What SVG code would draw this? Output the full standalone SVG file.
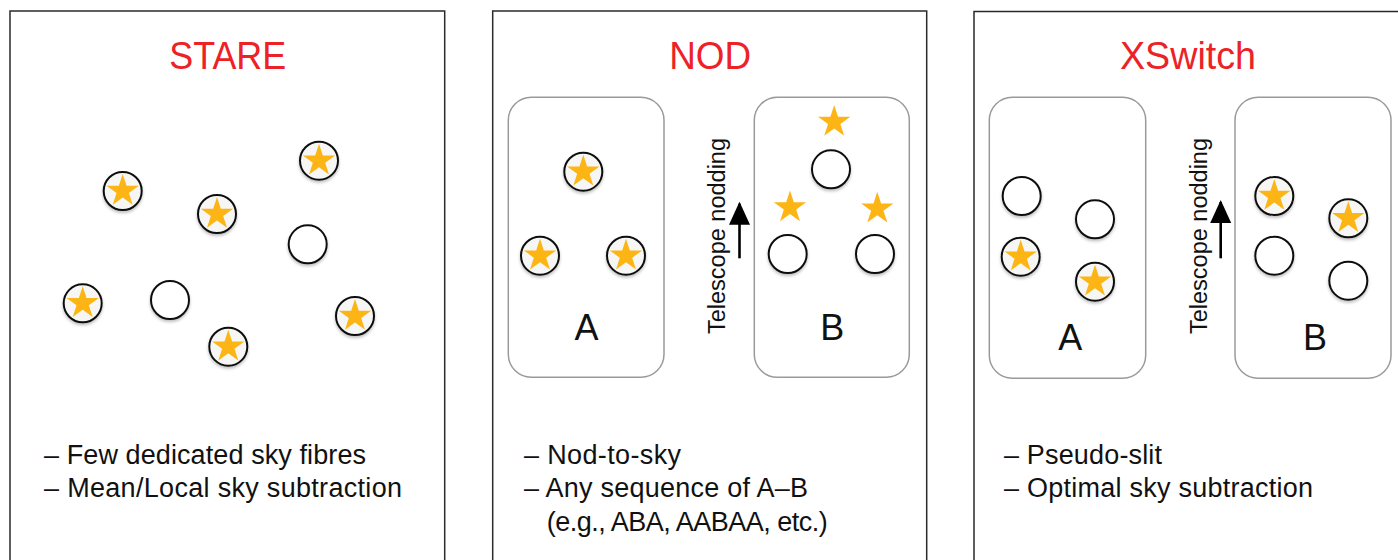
<svg xmlns="http://www.w3.org/2000/svg" xmlns:xlink="http://www.w3.org/1999/xlink" width="1398" height="560" viewBox="0 0 1398 560">
<style>
.panel{fill:#fff;stroke:#2a2a2a;stroke-width:1.5}
.pos{fill:#fff;stroke:#9a9a9a;stroke-width:1.5}
.fib{fill:#fff;stroke:#111;stroke-width:2;filter:url(#sh)}
.fibs{fill:#f6f6f4;stroke:#111;stroke-width:2;filter:url(#sh)}
.star{fill:#fdb515}
.title{font-family:"Liberation Sans",Arial,sans-serif;font-size:38px;fill:#ec2227;text-anchor:middle}
.lab{font-family:"Liberation Sans",Arial,sans-serif;font-size:36px;fill:#111;text-anchor:middle}
.bul{font-family:"Liberation Sans",Arial,sans-serif;font-size:27px;fill:#111}
.rot{font-family:"Liberation Sans",Arial,sans-serif;font-size:23.5px;fill:#111;text-anchor:middle}
.arr{stroke:#000;stroke-width:2.6;fill:none;marker-end:url(#ah)}
</style>
<defs>
<filter id="sh" x="-30%" y="-30%" width="160%" height="170%">
<feDropShadow dx="0" dy="2" stdDeviation="1.6" flood-color="#000" flood-opacity="0.25"/>
</filter>
<path id="st" class="star" d="M0,-17 L3.82,-5.26 L16.17,-5.25 L6.18,2.01 L9.99,13.75 L0,6.5 L-9.99,13.75 L-6.18,2.01 L-16.17,-5.25 L-3.82,-5.26 Z"/>
<marker id="ah" markerUnits="userSpaceOnUse" markerWidth="24" markerHeight="22" viewBox="0 0 24 22" refX="21" refY="10.5" orient="auto">
<path d="M0,0 L23,10.5 L0,21 Z" fill="#000"/>
</marker>
</defs>
<rect width="1398" height="560" fill="#fff"/>

<g id="panel-stare">
<rect class="panel" x="10" y="11" width="434.7" height="600"/>
<text class="title" x="227.7" y="69.3" textLength="117" lengthAdjust="spacingAndGlyphs">STARE</text>
<g id="stare-fibres">
<circle class="fibs" cx="122.7" cy="191" r="19"/><use xlink:href="#st" x="122.7" y="191"/>
<circle class="fibs" cx="319" cy="160.7" r="19"/><use xlink:href="#st" x="319" y="160.7"/>
<circle class="fibs" cx="217" cy="214" r="19"/><use xlink:href="#st" x="217" y="214"/>
<circle class="fib" cx="307.7" cy="244.3" r="19"/>
<circle class="fibs" cx="82.7" cy="303.3" r="19"/><use xlink:href="#st" x="82.7" y="303.3"/>
<circle class="fib" cx="170" cy="300" r="19"/>
<circle class="fibs" cx="228.3" cy="346.7" r="19"/><use xlink:href="#st" x="228.3" y="346.7"/>
<circle class="fibs" cx="355" cy="316" r="19"/><use xlink:href="#st" x="355" y="316"/>
</g>
<text class="bul" x="44" y="463.5" textLength="322" lengthAdjust="spacing">– Few dedicated sky fibres</text>
<text class="bul" x="44" y="497" textLength="358" lengthAdjust="spacing">– Mean/Local sky subtraction</text>
</g>

<g id="panel-nod">
<rect class="panel" x="492.7" y="11" width="434" height="600"/>
<text class="title" x="710.2" y="69.3" textLength="82" lengthAdjust="spacingAndGlyphs">NOD</text>
<g id="nod-a">
<rect class="pos" x="508.3" y="97.3" width="155.7" height="280" rx="23"/>
<circle class="fibs" cx="583.3" cy="171.7" r="19"/><use xlink:href="#st" x="583.3" y="171.7"/>
<circle class="fibs" cx="540" cy="255.7" r="19"/><use xlink:href="#st" x="540" y="255.7"/>
<circle class="fibs" cx="626" cy="255.7" r="19"/><use xlink:href="#st" x="626" y="255.7"/>
<text class="lab" x="586.5" y="340">A</text>
</g>
<g id="nod-b">
<rect class="pos" x="754.3" y="97.3" width="155" height="280" rx="23"/>
<use xlink:href="#st" x="834.2" y="122"/>
<use xlink:href="#st" x="790" y="207.5"/>
<use xlink:href="#st" x="877.3" y="208.7"/>
<circle class="fib" cx="831" cy="169.3" r="19"/>
<circle class="fib" cx="787.7" cy="254" r="19"/>
<circle class="fib" cx="875" cy="254" r="19"/>
<text class="lab" x="832.2" y="340">B</text>
</g>
<text class="rot" transform="translate(725,236) rotate(-90)">Telescope nodding</text>
<text class="bul" x="524" y="463.5" textLength="157" lengthAdjust="spacing">– Nod-to-sky</text>
<text class="bul" x="524" y="497" textLength="284" lengthAdjust="spacing">– Any sequence of A–B</text>
<text class="bul" x="546.7" y="530.5" textLength="281" lengthAdjust="spacing">(e.g., ABA, AABAA, etc.)</text>
</g>

<g id="panel-xswitch">
<rect class="panel" x="974" y="11.5" width="434.7" height="600"/>
<text class="title" x="1188" y="69.3" textLength="136" lengthAdjust="spacingAndGlyphs">XSwitch</text>
<g id="xs-a">
<rect class="pos" x="989.3" y="97.3" width="156.4" height="281" rx="23"/>
<circle class="fib" cx="1021.7" cy="196" r="19"/>
<circle class="fib" cx="1095" cy="219.3" r="19"/>
<circle class="fibs" cx="1020.7" cy="256.7" r="19"/><use xlink:href="#st" x="1020.7" y="256.7"/>
<circle class="fibs" cx="1095" cy="281.7" r="19"/><use xlink:href="#st" x="1095" y="281.7"/>
<text class="lab" x="1070.2" y="350">A</text>
</g>
<g id="xs-b">
<rect class="pos" x="1235" y="97.3" width="156" height="281" rx="23"/>
<circle class="fibs" cx="1274.3" cy="196" r="19"/><use xlink:href="#st" x="1274.3" y="196"/>
<circle class="fibs" cx="1348.3" cy="218.3" r="19"/><use xlink:href="#st" x="1348.3" y="218.3"/>
<circle class="fib" cx="1274.3" cy="255.7" r="19"/>
<circle class="fib" cx="1348.3" cy="280.7" r="19"/>
<text class="lab" x="1315" y="350">B</text>
</g>
<text class="rot" transform="translate(1206.5,236) rotate(-90)">Telescope nodding</text>
<text class="bul" x="1004" y="463.5" textLength="158" lengthAdjust="spacing">– Pseudo-slit</text>
<text class="bul" x="1004" y="497" textLength="309" lengthAdjust="spacing">– Optimal sky subtraction</text>
</g>

<g id="connectors">
<line class="arr" x1="739.5" y1="258.3" x2="739.5" y2="203.7"/>
<line class="arr" x1="1220.7" y1="258.3" x2="1220.7" y2="202"/>
</g>
</svg>
